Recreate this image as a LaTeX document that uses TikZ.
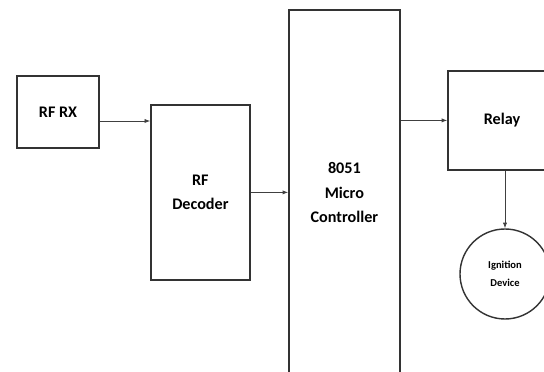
\documentclass[tikz,border=0pt]{standalone}
\usepackage{fontspec}
\setmainfont{Carlito}
\usepackage{tikz}
\usetikzlibrary{arrows.meta, positioning, calc}

\begin{document}
\begin{tikzpicture}[
  blk/.style={rectangle, draw=black!80, line width=1pt, align=center, font=\bfseries\fontsize{11.5}{16.5}\selectfont, inner sep=0pt},
  dev/.style={circle, draw=black!80, line width=1pt, align=center, font=\bfseries\fontsize{7.5}{12.5}\selectfont, inner sep=0pt},
  arr/.style={-{Latex[length=4pt,width=3pt]}, draw=black!75, line width=0.6pt},
]
\useasboundingbox (0,0) rectangle (13.6,9.3);
\clip (0,0) rectangle (13.6,9.3);
% blocks
\node[blk, minimum width=2.05cm, minimum height=1.8cm] (rx) at (1.45,6.5) {RF RX};
\node[blk, minimum width=2.475cm, minimum height=4.375cm] (dec) at (5.01,4.49) {RF\\Decoder};
\node[blk, minimum width=2.775cm, minimum height=10.25cm] (mcu) at (8.61,3.925) {};
\node[font=\bfseries\fontsize{11.5}{17.5}\selectfont, align=center] (mcutxt) at (8.61,4.48) {8051\\Micro\\Controller};
\node[blk, minimum width=2.7cm, minimum height=2.475cm] (relay) at (12.55,6.29) {Relay};
\node[dev, minimum size=2.25cm] (ign) at (12.625,2.45) {Ignition\\Device};
% connections
\draw[arr] ([yshift=-0.225cm]rx.east) -- ([yshift=-0.225cm]rx.east -| dec.west);
\draw[arr] (dec.east) -- (dec.east -| mcu.west);
\draw[arr] (relay.west -| mcu.east) -- (relay.west);
\draw[arr] (ign.north |- relay.south) -- (ign.north);
\end{tikzpicture}
\end{document}
